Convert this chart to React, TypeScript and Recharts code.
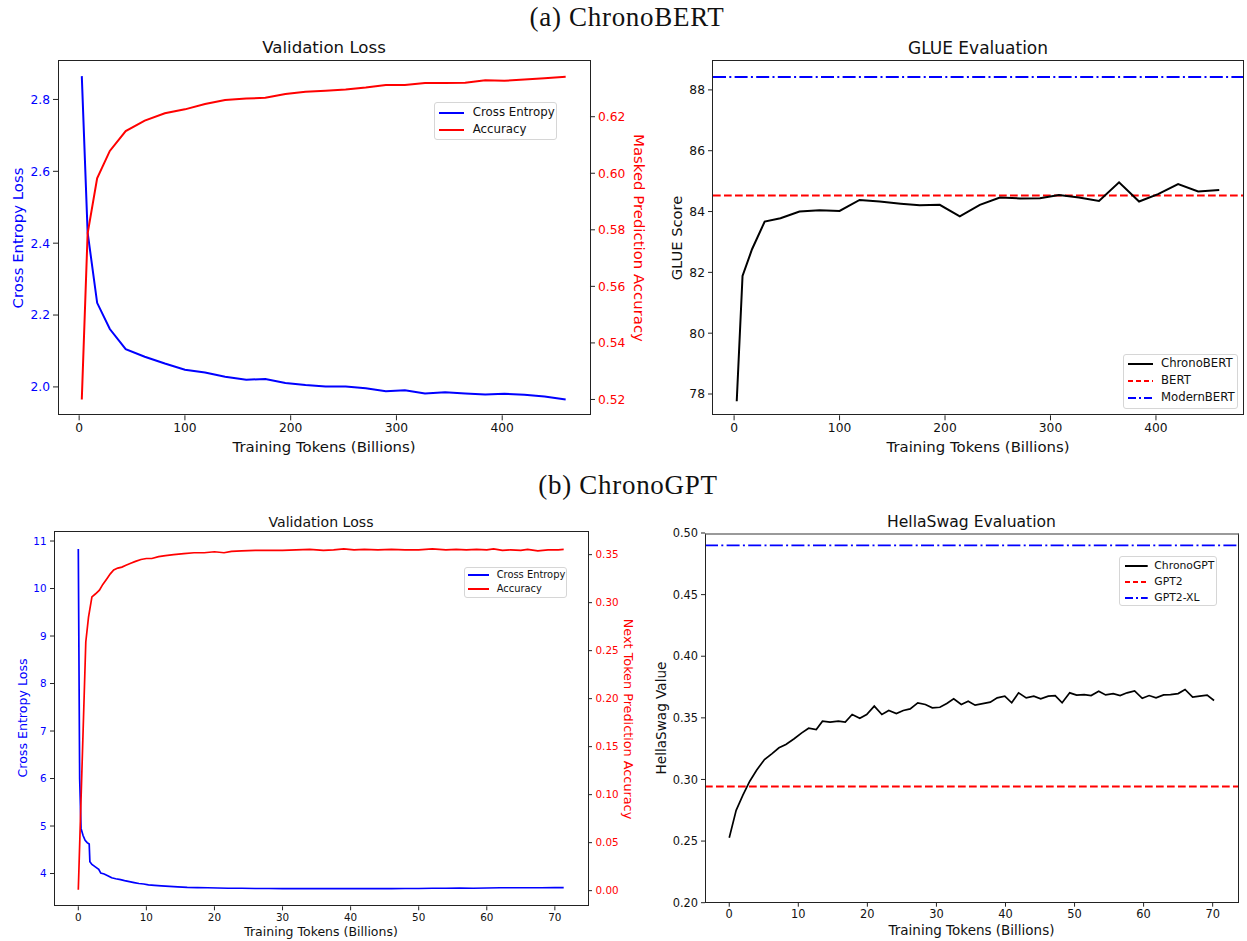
import React from 'react';
import { LineChart, Line, XAxis, YAxis, ReferenceLine } from 'recharts';

const SANS = '"DejaVu Sans", sans-serif';
const SERIF = '"Liberation Serif", serif';
const BLUE = '#0000ff';
const RED = '#ff0000';
const INK = '#111';

// (a) ChronoBERT — checkpoints, training tokens in billions
const bertTokens = [2.5, 8, 17, 29, 44, 62, 81, 100, 119, 138, 158, 176, 195, 214, 233, 252, 271, 290, 308, 327, 346, 365, 384, 402, 421, 440, 460];
const bertLoss = [2.865, 2.43, 2.234, 2.161, 2.105, 2.084, 2.065, 2.048, 2.04, 2.028, 2.02, 2.022, 2.011, 2.005, 2.001, 2.001, 1.996, 1.988, 1.991, 1.982, 1.985, 1.982, 1.979, 1.981, 1.978, 1.973, 1.965];
const bertAcc = [0.52, 0.5787, 0.5982, 0.6079, 0.6149, 0.6186, 0.6212, 0.6226, 0.6245, 0.6259, 0.6264, 0.6267, 0.628, 0.6288, 0.6292, 0.6296, 0.6303, 0.6312, 0.6312, 0.6319, 0.6319, 0.632, 0.6329, 0.6327, 0.6332, 0.6336, 0.6341];
const glueScore = [77.76, 81.88, 82.76, 83.67, 83.78, 84.0, 84.04, 84.02, 84.38, 84.33, 84.26, 84.21, 84.22, 83.84, 84.22, 84.46, 84.43, 84.44, 84.54, 84.46, 84.35, 84.96, 84.33, 84.57, 84.9, 84.66, 84.71];
const BERT_GLUE = 84.53;
const MODERNBERT_GLUE = 88.42;

// (b) ChronoGPT
const gptLossTokens = [0, 0.2, 0.4, 0.7, 1.0, 1.3, 1.6, 1.7, 2.0, 2.5, 3.0, 3.3, 3.8, 4.4, 4.9, 5.5, 6.2, 6.8, 7.5, 8.2, 8.9, 9.6, 10.3, 11.2, 12.2, 13.4, 14.6, 16, 17.5, 19, 20.5, 22, 24, 26, 28, 30, 32, 34, 36, 38, 40, 42, 44, 46, 48, 50, 52, 54, 56, 58, 60, 62, 64, 66, 68, 70, 71.3];
const gptLoss = [10.83, 6.0, 4.95, 4.8, 4.7, 4.65, 4.62, 4.25, 4.19, 4.14, 4.09, 4.01, 3.99, 3.95, 3.91, 3.89, 3.87, 3.85, 3.83, 3.81, 3.79, 3.78, 3.76, 3.75, 3.74, 3.73, 3.72, 3.71, 3.705, 3.7, 3.695, 3.69, 3.69, 3.685, 3.685, 3.68, 3.685, 3.68, 3.685, 3.68, 3.685, 3.68, 3.685, 3.68, 3.685, 3.685, 3.69, 3.69, 3.695, 3.69, 3.695, 3.7, 3.7, 3.7, 3.7, 3.705, 3.705];
const gptAccTokens = [0, 1.1, 1.5, 2.0, 2.5, 3.1, 3.6, 4.2, 4.7, 5.2, 5.8, 6.4, 7.0, 7.7, 8.4, 9.2, 10.0, 10.8, 11.8, 12.8, 14, 15.5, 17, 18.5, 20, 21.4, 22.5, 24, 26, 28, 30, 32, 34, 36, 37.5, 39, 40.5, 42, 44, 46, 48, 50, 52, 54, 55.5, 57, 58.5, 60, 61, 62.3, 63.5, 65, 66, 67.5, 69, 70.5, 71.3];
const gptAcc = [0.001, 0.259, 0.285, 0.306, 0.309, 0.313, 0.319, 0.325, 0.33, 0.334, 0.336, 0.337, 0.339, 0.341, 0.343, 0.345, 0.346, 0.346, 0.348, 0.349, 0.35, 0.351, 0.352, 0.352, 0.353, 0.352, 0.3535, 0.354, 0.3545, 0.3545, 0.3545, 0.355, 0.3555, 0.3545, 0.355, 0.356, 0.355, 0.3555, 0.355, 0.3555, 0.355, 0.355, 0.356, 0.355, 0.3555, 0.355, 0.3555, 0.355, 0.356, 0.3545, 0.355, 0.3545, 0.3555, 0.354, 0.355, 0.355, 0.3555];
const hellaTokens = [0, 1.0, 1.96, 2.97, 3.98, 5.1, 6.2, 7.2, 8.2, 9.4, 10.5, 11.5, 12.6, 13.5, 14.6, 15.8, 16.8, 17.8, 18.9, 19.9, 21.0, 22.1, 23.1, 24.2, 25.2, 26.2, 27.3, 28.4, 29.4, 30.5, 31.5, 32.5, 33.6, 34.6, 35.6, 36.7, 37.8, 38.8, 39.9, 40.9, 41.9, 43.0, 44.1, 45.1, 46.2, 47.2, 48.2, 49.3, 50.3, 51.4, 52.4, 53.5, 54.5, 55.6, 56.6, 57.6, 58.7, 59.8, 60.8, 61.8, 62.9, 63.9, 65.0, 66.0, 67.1, 68.1, 69.2, 70.2];
const hellaSwag = [0.2527, 0.2749, 0.287, 0.2986, 0.3076, 0.3162, 0.321, 0.3257, 0.3284, 0.333, 0.3378, 0.3416, 0.3405, 0.3473, 0.3465, 0.3473, 0.3465, 0.3527, 0.3497, 0.3527, 0.3595, 0.3527, 0.356, 0.3535, 0.356, 0.3573, 0.3622, 0.3608, 0.3581, 0.3586, 0.3616, 0.3654, 0.3608, 0.3635, 0.3603, 0.3616, 0.3627, 0.3662, 0.3676, 0.3622, 0.3703, 0.3662, 0.3676, 0.3654, 0.3676, 0.3681, 0.3622, 0.3703, 0.3684, 0.3689, 0.3681, 0.3716, 0.3686, 0.3697, 0.3681, 0.3703, 0.3719, 0.3659, 0.3681, 0.3662, 0.3686, 0.3689, 0.3697, 0.373, 0.3668, 0.3676, 0.3684, 0.3641];
const GPT2_HELLA = 0.2943;
const GPT2XL_HELLA = 0.4899;

const bertTicksX = [0, 100, 200, 300, 400];
const gptTicksX = [0, 10, 20, 30, 40, 50, 60, 70];

const zip = (xs: number[], ys: number[]) => xs.map((x, i) => ({ x, y: ys[i] }));

const DASH = '7.7 3.3';
const DASH_DOT = '13 3.3 2 3.3';

// axis widths around each plot box
const L = 50, R = 50, T = 10, B = 30;

function Txt({ x, y, size, color = INK, rotate = 0, family = SANS, spacing = 0, children }: any) {
    return (
        <div style={{
            position: 'absolute', left: x, top: y, fontSize: size, color, fontFamily: family,
            whiteSpace: 'nowrap', lineHeight: 1, letterSpacing: spacing,
            transform: `translate(-50%, -50%) rotate(${rotate}deg)`,
        }}>{children}</div>
    );
}

function Frame({ box, topStyle }: any) {
    return (
        <div style={{
            position: 'absolute', left: box.x0 - 0.5, top: box.y0 - 0.5,
            width: box.x1 - box.x0 + 1, height: box.y1 - box.y0 + 1,
            border: '1px solid #222', borderTop: topStyle || '1px solid #222',
            boxSizing: 'border-box', pointerEvents: 'none',
        }} />
    );
}

function LegendBox({ left, top, width, height, fontSize, rows, sample, textX, items }: any) {
    return (
        <div style={{
            position: 'absolute', left, top, width, height, background: 'rgba(255,255,255,0.85)',
            border: '1px solid #d6d6d6', borderRadius: 3, boxSizing: 'border-box',
        }}>
            {items.map((it: any, i: number) => (
                <React.Fragment key={it.label}>
                    <svg style={{ position: 'absolute', left: sample[0], top: rows[i] - 4 }} width={sample[1] - sample[0]} height={8}>
                        <line x1={0} y1={4} x2={sample[1] - sample[0]} y2={4} stroke={it.color} strokeWidth={2} strokeDasharray={it.dash} />
                    </svg>
                    <div style={{
                        position: 'absolute', left: textX, top: rows[i], transform: 'translateY(-50%)',
                        fontSize, fontFamily: SANS, color: INK, lineHeight: 1, whiteSpace: 'nowrap',
                    }}>{it.label}</div>
                </React.Fragment>
            ))}
        </div>
    );
}

function chartBox(box: any, right: boolean) {
    return {
        style: { position: 'absolute' as const, left: box.x0 - L, top: box.y0 - T },
        width: box.x1 - box.x0 + L + (right ? R : 4),
        height: box.y1 - box.y0 + T + B,
        margin: { top: T, right: right ? 0 : 4, bottom: 0, left: 0 },
    };
}

const boxA1 = { x0: 58, y0: 60.7, x1: 590, y1: 415 };
const boxA2 = { x0: 712.5, y0: 60.7, x1: 1243, y1: 415 };
const boxB1 = { x0: 54.3, y0: 531.7, x1: 588.3, y1: 906 };
const boxB2 = { x0: 705, y0: 533.3, x1: 1238.3, y1: 903 };

export default function App() {
    const a1 = chartBox(boxA1, true);
    const a2 = chartBox(boxA2, false);
    const b1 = chartBox(boxB1, true);
    const b2 = chartBox(boxB2, false);

    const tickA = (fill: string) => ({ fontSize: 12.3, fill, fontFamily: SANS });
    const tickB1 = (fill: string) => ({ fontSize: 10.4, fill, fontFamily: SANS });
    const tickB2 = { fontSize: 11.4, fill: INK, fontFamily: SANS };
    const tl = { stroke: '#222' };

    return (
        <div style={{ position: 'absolute', left: 0, top: 0, width: 1247, height: 941, background: '#fff', overflow: 'hidden' }}>
            <Txt x={627} y={17} size={27} spacing={0.7} family={SERIF}>(a) ChronoBERT</Txt>
            <Txt x={628} y={485} size={27} spacing={0.7} family={SERIF}>(b) ChronoGPT</Txt>

            {/* ChronoBERT validation loss */}
            <div style={a1.style}>
                <LineChart width={a1.width} height={a1.height} margin={a1.margin}>
                    <XAxis type="number" dataKey="x" domain={[-20, 483]} ticks={bertTicksX} interval={0} allowDataOverflow
                        height={B} axisLine={false} tickLine={tl} tickSize={5} tickMargin={3} tick={tickA(INK)} />
                    <YAxis yAxisId="loss" type="number" domain={[1.921, 2.907]} ticks={[2.0, 2.2, 2.4, 2.6, 2.8]} interval={0} allowDataOverflow
                        width={L} axisLine={false} tickLine={tl} tickSize={5} tickMargin={3} tick={tickA(BLUE)} tickFormatter={(v: number) => v.toFixed(1)} />
                    <YAxis yAxisId="acc" orientation="right" type="number" domain={[0.5144, 0.6397]} ticks={[0.52, 0.54, 0.56, 0.58, 0.6, 0.62]} interval={0} allowDataOverflow
                        width={R} axisLine={false} tickLine={tl} tickSize={5} tickMargin={3} tick={tickA(RED)} tickFormatter={(v: number) => v.toFixed(2)} />
                    <Line yAxisId="loss" data={zip(bertTokens, bertLoss)} dataKey="y" stroke={BLUE} strokeWidth={2} dot={false} isAnimationActive={false} />
                    <Line yAxisId="acc" data={zip(bertTokens, bertAcc)} dataKey="y" stroke={RED} strokeWidth={2} dot={false} isAnimationActive={false} />
                </LineChart>
            </div>
            <Frame box={boxA1} />
            <Txt x={324} y={48.3} size={16.6}>Validation Loss</Txt>
            <Txt x={324} y={446.7} size={14.9}>Training Tokens (Billions)</Txt>
            <Txt x={17.5} y={238} size={14.9} color={BLUE} rotate={-90}>Cross Entropy Loss</Txt>
            <Txt x={639} y={238} size={14.9} color={RED} rotate={90}>Masked Prediction Accuracy</Txt>
            <LegendBox left={434} top={101.7} width={123} height={38.3} fontSize={11.8} rows={[10.3, 27.3]} sample={[4.3, 29.3]} textX={37.7}
                items={[{ label: 'Cross Entropy', color: BLUE }, { label: 'Accuracy', color: RED }]} />

            {/* ChronoBERT GLUE */}
            <div style={a2.style}>
                <LineChart width={a2.width} height={a2.height} margin={a2.margin}>
                    <XAxis type="number" dataKey="x" domain={[-20, 483]} ticks={bertTicksX} interval={0} allowDataOverflow
                        height={B} axisLine={false} tickLine={tl} tickSize={5} tickMargin={3} tick={tickA(INK)} />
                    <YAxis type="number" domain={[77.3, 88.95]} ticks={[78, 80, 82, 84, 86, 88]} interval={0} allowDataOverflow
                        width={L} axisLine={false} tickLine={tl} tickSize={5} tickMargin={3} tick={tickA(INK)} />
                    <ReferenceLine y={BERT_GLUE} stroke={RED} strokeWidth={2} strokeDasharray={DASH} />
                    <ReferenceLine y={MODERNBERT_GLUE} stroke={BLUE} strokeWidth={2} strokeDasharray={DASH_DOT} />
                    <Line data={zip(bertTokens, glueScore)} dataKey="y" stroke="#000" strokeWidth={2} dot={false} isAnimationActive={false} />
                </LineChart>
            </div>
            <Frame box={boxA2} />
            <Txt x={978} y={48.3} size={17}>GLUE Evaluation</Txt>
            <Txt x={978} y={446.7} size={14.9}>Training Tokens (Billions)</Txt>
            <Txt x={676.8} y={238} size={14.7} rotate={-90}>GLUE Score</Txt>
            <LegendBox left={1122.7} top={354} width={115.6} height={55} fontSize={11.7} rows={[9, 26, 43]} sample={[4, 29]} textX={37.3}
                items={[{ label: 'ChronoBERT', color: '#000' }, { label: 'BERT', color: RED, dash: '5 3' }, { label: 'ModernBERT', color: BLUE, dash: '8 3 2 3' }]} />

            {/* ChronoGPT validation loss */}
            <div style={b1.style}>
                <LineChart width={b1.width} height={b1.height} margin={b1.margin}>
                    <XAxis type="number" dataKey="x" domain={[-3.57, 74.87]} ticks={gptTicksX} interval={0} allowDataOverflow
                        height={B} axisLine={false} tickLine={tl} tickSize={4} tickMargin={3} tick={tickB1(INK)} />
                    <YAxis yAxisId="loss" type="number" domain={[3.31, 11.19]} ticks={[4, 5, 6, 7, 8, 9, 10, 11]} interval={0} allowDataOverflow
                        width={L} axisLine={false} tickLine={tl} tickSize={4} tickMargin={3.5} tick={tickB1(BLUE)} />
                    <YAxis yAxisId="acc" orientation="right" type="number" domain={[-0.0163, 0.3736]} ticks={[0, 0.05, 0.1, 0.15, 0.2, 0.25, 0.3, 0.35]} interval={0} allowDataOverflow
                        width={R} axisLine={false} tickLine={tl} tickSize={4} tickMargin={3.5} tick={tickB1(RED)} tickFormatter={(v: number) => v.toFixed(2)} />
                    <Line yAxisId="loss" data={zip(gptLossTokens, gptLoss)} dataKey="y" stroke={BLUE} strokeWidth={1.7} dot={false} isAnimationActive={false} />
                    <Line yAxisId="acc" data={zip(gptAccTokens, gptAcc)} dataKey="y" stroke={RED} strokeWidth={1.7} dot={false} isAnimationActive={false} />
                </LineChart>
            </div>
            <Frame box={boxB1} />
            <Txt x={321} y={521.7} size={14.1}>Validation Loss</Txt>
            <Txt x={321} y={931.7} size={12.5}>Training Tokens (Billions)</Txt>
            <Txt x={23.4} y={718} size={12.6} color={BLUE} rotate={-90}>Cross Entropy Loss</Txt>
            <Txt x={628} y={719} size={12.8} color={RED} rotate={90}>Next Token Prediction Accuracy</Txt>
            <LegendBox left={464} top={566.7} width={103} height={31} fontSize={9.9} rows={[7.6, 21.6]} sample={[3.3, 24.3]} textX={31.7}
                items={[{ label: 'Cross Entropy', color: BLUE }, { label: 'Accuracy', color: RED }]} />

            {/* ChronoGPT HellaSwag */}
            <div style={b2.style}>
                <LineChart width={b2.width} height={b2.height} margin={b2.margin}>
                    <XAxis type="number" dataKey="x" domain={[-3.51, 73.71]} ticks={gptTicksX} interval={0} allowDataOverflow
                        height={B} axisLine={false} tickLine={tl} tickSize={4} tickMargin={3} tick={tickB2} />
                    <YAxis type="number" domain={[0.2, 0.5]} ticks={[0.2, 0.25, 0.3, 0.35, 0.4, 0.45, 0.5]} interval={0} allowDataOverflow
                        width={L} axisLine={false} tickLine={tl} tickSize={4} tickMargin={3} tick={tickB2} tickFormatter={(v: number) => v.toFixed(2)} />
                    <ReferenceLine y={GPT2_HELLA} stroke={RED} strokeWidth={1.8} strokeDasharray={DASH} />
                    <ReferenceLine y={GPT2XL_HELLA} stroke={BLUE} strokeWidth={1.8} strokeDasharray={DASH_DOT} />
                    <Line data={zip(hellaTokens, hellaSwag)} dataKey="y" stroke="#000" strokeWidth={1.7} dot={false} isAnimationActive={false} />
                </LineChart>
            </div>
            <Frame box={boxB2} topStyle="2px solid #9a9a9a" />
            <Txt x={971.5} y={522.7} size={15.6}>HellaSwag Evaluation</Txt>
            <Txt x={971.5} y={931} size={13.5}>Training Tokens (Billions)</Txt>
            <Txt x={662} y={718} size={13.6} rotate={-90}>HellaSwag Value</Txt>
            <LegendBox left={1119} top={556} width={98} height={50} fontSize={10.8} rows={[9, 24.7, 40.7]} sample={[5, 27.7]} textX={34.3}
                items={[{ label: 'ChronoGPT', color: '#000' }, { label: 'GPT2', color: RED, dash: '5 3' }, { label: 'GPT2-XL', color: BLUE, dash: '8 3 2 3' }]} />
        </div>
    );
}
